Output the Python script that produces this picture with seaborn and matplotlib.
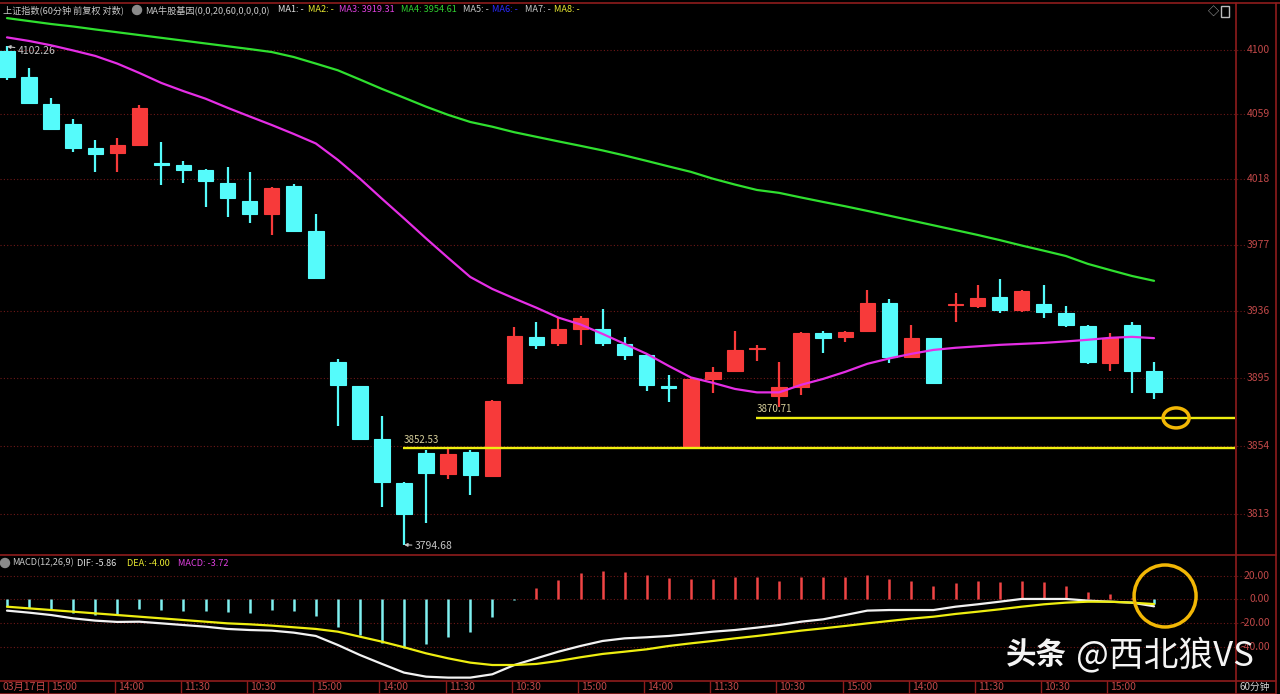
import numpy as np
import pandas as pd
import matplotlib
matplotlib.use("Agg")
import matplotlib.pyplot as plt
import matplotlib.transforms as mtransforms
from matplotlib.patches import Ellipse, Rectangle
from matplotlib.lines import Line2D
import seaborn as sns

# ---------------- data ----------------
open_ = [4099.6, 4083.0, 4065.7, 4052.7, 4037.5, 4034.4, 4039.6, 4028.0, 4027.0, 4023.8,
         4015.8, 4004.4, 3996.0, 4013.9, 3985.6, 3904.6, 3890.1, 3857.8, 3831.7, 3849.4,
         3837.1, 3850.3, 3835.8, 3892.1, 3919.9, 3916.2, 3925.0, 3924.8, 3915.8, 3909.0,
         3890.1, 3853.0, 3894.2, 3899.5, 3912.9, 3884.1, 3889.7, 3922.4, 3920.3, 3923.8,
         3940.8, 3908.0, 3919.3, 3939.9, 3939.1, 3944.8, 3936.6, 3940.3, 3935.0, 3927.0,
         3904.4, 3927.4, 3899.5]
close_ = [4082.6, 4066.0, 4049.7, 4037.9, 4033.7, 4039.6, 4062.8, 4027.0, 4023.8, 4016.9,
          4006.4, 3996.0, 4012.7, 3985.6, 3956.6, 3890.8, 3858.2, 3832.3, 3813.0, 3837.4,
          3849.0, 3836.4, 3881.0, 3920.9, 3915.4, 3924.8, 3931.5, 3916.2, 3909.1, 3890.8,
          3888.9, 3894.4, 3898.5, 3912.1, 3913.2, 3889.4, 3922.4, 3919.7, 3923.0, 3940.8,
          3908.0, 3919.3, 3891.8, 3940.2, 3944.2, 3936.6, 3948.4, 3935.2, 3927.4, 3904.8,
          3919.3, 3899.5, 3886.7]
high_ = [4102.26, 4088.3, 4069.2, 4055.8, 4042.8, 4044.2, 4064.9, 4041.7, 4029.5, 4024.4,
         4025.9, 4022.3, 4013.0, 4014.8, 3996.3, 3906.4, 3890.3, 3872.1, 3832.0, 3851.4,
         3853.3, 3851.4, 3881.5, 3926.0, 3929.1, 3932.5, 3932.9, 3937.0, 3919.9, 3909.8,
         3896.8, 3895.4, 3901.9, 3923.9, 3915.2, 3905.0, 3923.0, 3923.8, 3923.6, 3949.0,
         3943.2, 3927.4, 3919.5, 3947.3, 3952.1, 3955.6, 3948.8, 3952.1, 3938.8, 3927.5,
         3922.4, 3929.5, 3904.6]
low_ = [4080.9, 4065.5, 4049.1, 4035.4, 4022.7, 4022.7, 4039.0, 4014.4, 4015.8, 4000.8,
        3994.1, 3990.8, 3983.1, 3985.3, 3956.2, 3865.9, 3858.0, 3817.3, 3794.68, 3807.8,
        3833.8, 3824.4, 3835.5, 3891.5, 3912.6, 3914.6, 3915.2, 3914.2, 3906.0, 3887.3,
        3880.6, 3852.53, 3886.1, 3899.0, 3905.4, 3877.2, 3884.7, 3910.1, 3917.2, 3923.5,
        3904.4, 3907.1, 3891.5, 3929.5, 3937.7, 3935.0, 3935.6, 3931.9, 3926.0, 3903.6,
        3899.5, 3886.1, 3882.1]
ma3 = [4108.1, 4105.8, 4103.0, 4099.7, 4096.2, 4091.3, 4085.3, 4078.9, 4073.7, 4068.9,
       4063.1, 4057.6, 4052.2, 4046.5, 4040.5, 4030.1, 4018.3, 4005.7, 3993.4, 3980.9,
       3968.8, 3957.0, 3949.6, 3943.7, 3938.0, 3931.9, 3927.7, 3921.9, 3915.8, 3909.7,
       3902.3, 3895.3, 3892.0, 3888.3, 3886.2, 3886.2, 3890.8, 3894.4, 3898.7, 3903.6,
       3906.9, 3909.7, 3912.1, 3913.4, 3914.3, 3915.2, 3915.8, 3916.4, 3917.3, 3918.3,
       3919.5, 3920.1, 3919.31]
ma4 = [4120.5, 4118.6, 4116.7, 4115.1, 4113.2, 4111.4, 4109.6, 4107.8, 4106.0, 4104.2,
       4102.4, 4100.6, 4098.7, 4095.5, 4091.3, 4087.0, 4081.1, 4075.1, 4069.5, 4063.8,
       4058.6, 4054.1, 4051.1, 4047.6, 4044.7, 4041.8, 4039.0, 4036.1, 4032.9, 4029.5,
       4026.0, 4022.6, 4018.3, 4014.6, 4011.2, 4009.4, 4006.5, 4003.7, 4001.0, 3998.1,
       3995.1, 3992.1, 3989.1, 3986.1, 3983.1, 3979.9, 3976.5, 3973.3, 3970.0, 3965.1,
       3961.3, 3957.6, 3954.61]
macd_hist = [-6.2, -7.6, -8.4, -11.8, -13.2, -12.6, -8.4, -9.0, -9.5, -9.8,
             -10.4, -11.8, -9.0, -9.5, -13.7, -23.0, -30.0, -36.4, -41.2, -37.8,
             -31.4, -27.2, -14.6, -0.5, 9.2, 16.2, 22.4, 23.8, 22.7, 20.4,
             17.6, 17.1, 17.1, 18.5, 19.0, 15.7, 18.5, 18.5, 18.5, 20.4,
             17.1, 15.7, 11.5, 14.0, 15.7, 14.8, 15.7, 14.3, 11.2, 5.9,
             4.5, 1.0, -3.72]
dif = [-9.5, -11.2, -13.2, -16.0, -17.9, -19.0, -18.8, -20.2, -21.6, -23.0,
       -24.9, -25.8, -26.3, -28.0, -30.8, -38.4, -46.8, -54.3, -61.6, -65.0,
       -65.8, -65.8, -63.0, -55.2, -49.6, -44.0, -39.2, -35.0, -32.8, -31.9,
       -30.8, -29.1, -27.2, -25.8, -23.8, -21.6, -18.8, -16.8, -13.2, -9.5,
       -9.0, -9.0, -9.0, -6.2, -4.2, -2.0, 0.3, 0.3, 0.3, -1.1,
       -2.0, -2.8, -5.86]
dea = [-6.2, -7.6, -9.0, -10.4, -11.8, -13.2, -14.6, -16.0, -17.4, -18.8,
       -20.2, -21.0, -22.1, -23.5, -24.9, -27.2, -31.4, -35.6, -40.3, -45.4,
       -49.6, -53.2, -55.2, -55.2, -54.3, -51.8, -48.7, -45.9, -44.0, -42.0,
       -39.2, -37.0, -35.0, -32.8, -30.8, -28.6, -26.3, -24.4, -22.4, -20.2,
       -18.2, -16.2, -14.6, -12.3, -10.4, -8.4, -6.2, -4.2, -2.8, -2.0,
       -2.0, -2.8, -4.00]

price_ticks = [4100, 4059, 4018, 3977, 3936, 3895, 3854, 3813]
macd_ticks = [20, 0, -20, -40]
macd_tick_labels = ["20.00", "0.00", "-20.00", "-40.00"]
time_label_idx = [0, 2, 5, 8, 11, 14, 17, 20, 23, 26, 29, 32, 35, 38, 41, 44, 47, 50]
time_labels = ["03月17日", "15:00", "14:00", "11:30", "10:30", "15:00", "14:00", "11:30", "10:30",
               "15:00", "14:00", "11:30", "10:30", "15:00", "14:00", "11:30", "10:30", "15:00"]
support_levels = [3852.53, 3870.71]
support_start = [18, 34]
high_label = (0, 4102.26)
low_label = (18, 3794.68)
mark_main = (53, 3870.71)
mark_macd = (52.5, 2.8)

# ---------------- style ----------------
sns.set_theme(style="dark", rc={"axes.facecolor": "black", "figure.facecolor": "black",
                                "axes.edgecolor": "black"})
plt.rcParams["font.family"] = ["Noto Sans CJK SC", "DejaVu Sans"]
plt.rcParams["axes.unicode_minus"] = False

RED = "#f73a3a"
CYAN = "#55fbfb"
MAG = "#e52ee5"
GREEN = "#2fe02f"
YEL = "#eeee10"
BORDER = "#8e1c1c"
GRID = "#6e1818"
TICKC = "#c04848"
GOLD = "#f2b705"

W, H = 1280, 694
fig = plt.figure(figsize=(W / 100, H / 100), dpi=100, facecolor="black")
renderer = fig.canvas.get_renderer()


def frect(x0, y0, x1, y1):
    return [x0 / W, 1 - y1 / H, (x1 - x0) / W, (y1 - y0) / H]


ax = fig.add_axes(frect(0, 3, 1235, 553))
axm = fig.add_axes(frect(0, 556, 1235, 680))
for a in (ax, axm):
    a.set_facecolor("black")
    for s in a.spines.values():
        s.set_visible(False)

XMIN, XMAX = -0.317, 55.67

idx = np.arange(len(close_))
df = pd.DataFrame({"idx": idx, "open": open_, "close": close_, "high": high_, "low": low_,
                   "ma3": ma3, "ma4": ma4, "hist": macd_hist, "dif": dif, "dea": dea})

# ---------------- main price panel ----------------
ax.set_yscale("log")
up = df["close"] >= df["open"]
ccol = np.where(up, RED, CYAN)
ax.vlines(df["idx"], df["low"], df["high"], colors=ccol, lw=1.6, zorder=2)
ax.bar(df["idx"], (df["close"] - df["open"]).abs(), bottom=np.minimum(df["open"], df["close"]),
       width=0.7, color=ccol, edgecolor=ccol, linewidth=0.8, zorder=3)
sns.lineplot(data=df, x="idx", y="ma3", ax=ax, color=MAG, lw=1.6, zorder=4)
sns.lineplot(data=df, x="idx", y="ma4", ax=ax, color=GREEN, lw=1.6, zorder=4)

for lvl, st in zip(support_levels, support_start):
    ax.hlines(lvl, st - 0.05, XMAX, color=YEL, lw=1.7, zorder=5)
    ax.annotate(f"{lvl:.2f}", xy=(st, lvl), xytext=(0, 2.5), textcoords="offset points",
                ha="left", va="bottom", color="#d9d19c", fontsize=7)

ax.annotate(f"{high_label[1]:.2f}", xy=high_label, xytext=(8, -3), textcoords="offset points",
            ha="left", va="center", color="#c4c4c4", fontsize=7.5,
            arrowprops=dict(arrowstyle="-|>", color="#c4c4c4", lw=0.8, mutation_scale=5,
                            shrinkA=0, shrinkB=0))
ax.annotate(f"{low_label[1]:.2f}", xy=low_label, xytext=(8, -1), textcoords="offset points",
            ha="left", va="center", color="#c4c4c4", fontsize=7.5,
            arrowprops=dict(arrowstyle="-|>", color="#c4c4c4", lw=0.8, mutation_scale=5,
                            shrinkA=0, shrinkB=0))

ylo = 4100 * np.exp(-503 / 6393)
yhi = 4100 * np.exp(47 / 6393)
ax.set_xlim(XMIN, XMAX)
ax.set_ylim(ylo, yhi)
ax.set_xticks([])
ax.set_yticks([])
ax.yaxis.set_minor_locator(matplotlib.ticker.NullLocator())
ax.set_xlabel("")
ax.set_ylabel("")

blend_main = mtransforms.blended_transform_factory(ax.transAxes, ax.transData)
for v in price_ticks:
    ax.plot([0, 1247 / 1235], [v, v], transform=blend_main, clip_on=False,
            ls=(0, (1, 2)), lw=0.8, color=GRID, zorder=1)
    ax.text(1270 / 1235, v, f"{v}", transform=blend_main, ha="right", va="center",
            color=TICKC, fontsize=7.5, clip_on=False)

# ---------------- MACD panel ----------------
hcol = np.where(df["hist"] >= 0, "#f04545", "#7ff0f0")
axm.vlines(df["idx"], 0, df["hist"], colors=hcol, lw=1.8, zorder=2)
sns.lineplot(data=df, x="idx", y="dif", ax=axm, color="#f2f2f2", lw=1.6, zorder=3)
sns.lineplot(data=df, x="idx", y="dea", ax=axm, color=YEL, lw=1.6, zorder=3)
axm.set_xlim(XMIN, XMAX)
axm.set_ylim(-67.8, 36.4)
axm.set_xticks([])
axm.set_yticks([])
axm.set_xlabel("")
axm.set_ylabel("")
blend_m = mtransforms.blended_transform_factory(axm.transAxes, axm.transData)
for v, lab in zip(macd_ticks, macd_tick_labels):
    axm.plot([0, 1247 / 1235], [v, v], transform=blend_m, clip_on=False,
             ls=(0, (1, 2)), lw=0.8, color=GRID, zorder=1)
    axm.text(1270 / 1235, v, lab, transform=blend_m, ha="right", va="center",
             color=TICKC, fontsize=7.5, clip_on=False, zorder=1)

# ---------------- highlight circles ----------------
tr1 = fig.dpi_scale_trans + mtransforms.ScaledTranslation(mark_main[0], mark_main[1], ax.transData)
fig.add_artist(Ellipse((0, 0), 0.26, 0.20, transform=tr1, fill=False, ec=GOLD, lw=2.5))
tr2 = fig.dpi_scale_trans + mtransforms.ScaledTranslation(mark_macd[0], mark_macd[1], axm.transData)
fig.add_artist(Ellipse((0, 0), 0.62, 0.62, transform=tr2, fill=False, ec=GOLD, lw=2.5))

# ---------------- time axis ----------------
blend_x = mtransforms.blended_transform_factory(axm.transData, fig.transFigure)
for i, lab in zip(time_label_idx, time_labels):
    if i > 0:
        fig.add_artist(Line2D([i - 0.12, i - 0.12], [1 - 681 / H, 1 - 693 / H], transform=blend_x,
                              color=BORDER, lw=1))
        fig.text(i + 0.02, 1 - 687 / H, lab, transform=blend_x, ha="left", va="center",
                 color=TICKC, fontsize=7.5)
    else:
        fig.text(i - 0.2, 1 - 687 / H, lab, transform=blend_x, ha="left", va="center",
                 color=TICKC, fontsize=7.5)
fig.text(1240 / W, 1 - 687 / H, "60分钟", ha="left", va="center", color="#d0d0d0", fontsize=7)

# ---------------- borders ----------------
def hline_px(y, x0, x1):
    fig.add_artist(Line2D([x0 / W, x1 / W], [1 - y / H, 1 - y / H], transform=fig.transFigure,
                          color=BORDER, lw=1.2))


def vline_px(x, y0, y1):
    fig.add_artist(Line2D([x / W, x / W], [1 - y0 / H, 1 - y1 / H], transform=fig.transFigure,
                          color=BORDER, lw=1.2))


hline_px(2.5, 0, 1280)
hline_px(554.5, 0, 1276)
hline_px(680.5, 0, 1276)
hline_px(693.5, 0, 1276)
vline_px(1235.5, 2.5, 693.5)
vline_px(1276, 2.5, 693.5)

# ---------------- legends (placed left to right, never overlapping) ----------------
px = mtransforms.IdentityTransform()


def legend_row(items, y, size):
    cur = 0
    for x, t, c in items:
        x0 = max(x, cur + 3)
        txt = fig.text(x0 / W, 1 - y / H, t, ha="left", va="center", color=c, fontsize=size)
        bb = txt.get_window_extent(renderer)
        cur = bb.x1


top_items = [(2, "上证指数(60分钟 前复权 对数)", "#c8c8c8"),
             (145, "MA牛股基因(0,0,20,60,0,0,0,0)", "#c8c8c8"),
             (278, "MA1: -", "#e0e0e0"), (308, "MA2: -", "#e8e830"),
             (339, "MA3: 3919.31", "#e040e0"), (401, "MA4: 3954.61", "#30d030"),
             (463, "MA5: -", "#c8c8c8"), (492, "MA6: -", "#2a2aff"),
             (525, "MA7: -", "#c8c8c8"), (553, "MA8: -", "#e8e830")]
legend_row(top_items, 10, 6.6)
fig.add_artist(Ellipse((137, H - 10), 9, 9, transform=px, color="#8a8a8a"))

macd_items = [(12, "MACD(12,26,9)", "#c8c8c8"), (71, "DIF: -5.86", "#e0e0e0"),
              (127, "DEA: -4.00", "#e8e830"), (178, "MACD: -3.72", "#e040e0")]
legend_row(macd_items, 563, 6.6)
fig.add_artist(Ellipse((5, H - 563), 9, 9, transform=px, color="#8a8a8a"))

fig.text(1208 / W, 1 - 11 / H, "◇", ha="left", va="center", color="#bbbbbb", fontsize=8)
fig.add_artist(Rectangle((1221, H - 17), 8, 11, transform=px, fill=False, ec="#bbbbbb", lw=1))

# ---------------- watermark ----------------
fig.text(1006 / W, 1 - 655 / H, "头条", ha="left", va="center", color="#f4f4f4",
         fontsize=22, fontweight="bold")
fig.text(1076 / W, 1 - 655 / H, "@西北狼VS", ha="left", va="center", color="#f4f4f4",
         fontsize=25)

fig.savefig("out.png", dpi=100, facecolor="black")
